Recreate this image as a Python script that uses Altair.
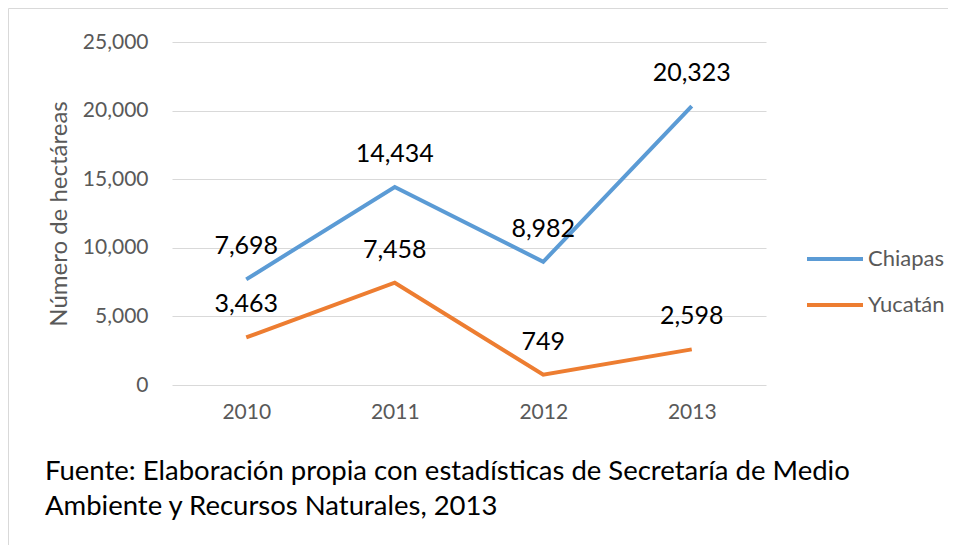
import altair as alt
import pandas as pd

years = ["2010", "2011", "2012", "2013"]
chiapas = [7698, 14434, 8982, 20323]
yucatan = [3463, 7458, 749, 2598]
series_names = ["Chiapas", "Yucatán"]
colors = ["#5B9BD5", "#ED7D31"]
y_ticks = [0, 5000, 10000, 15000, 20000, 25000]
footnote = ["Fuente: Elaboración propia con estadísticas de Secretaría de Medio",
            "Ambiente y Recursos Naturales, 2013"]

rows = []
for name, vals in zip(series_names, [chiapas, yucatan]):
    for y, v in zip(years, vals):
        rows.append({"year": y, "value": v, "series": name})
df = pd.DataFrame(rows)

FONT = "Lato"
W, H = 594, 343
PL, PT = 164, 34
TOTW, TOTH = 940, 537

base = alt.Chart(df)
y_scale = alt.Scale(domain=[0, 25000], nice=False)
x_scale = alt.Scale(padding=0.5)

x_enc = alt.X("year:N", title=None, scale=x_scale,
              axis=alt.Axis(labelAngle=0, labelFontSize=21, labelColor="#595959",
                            labelFont=FONT, labelPadding=16, domain=False, ticks=False,
                            grid=False))
y_enc = alt.Y("value:Q", title="Número de hectáreas", scale=y_scale,
              axis=alt.Axis(values=y_ticks, format=",d", labelFontSize=21,
                            labelColor="#595959", labelFont=FONT, labelPadding=24,
                            domain=False, ticks=False, gridColor="#d9d9d9",
                            titleFontSize=24, titleColor="#595959", titleFont=FONT,
                            titleFontWeight="normal", titleX=-101, titleY=H / 2))

color_enc = alt.Color("series:N", sort=series_names,
                      scale=alt.Scale(domain=series_names, range=colors),
                      legend=alt.Legend(title=None, orient="none", legendX=633, legendY=187,
                                        symbolType="stroke", symbolStrokeWidth=4,
                                        symbolSize=3136, labelFontSize=22,
                                        labelColor="#595959", labelFont=FONT,
                                        labelOffset=3, rowPadding=5))

lines = base.mark_line(strokeWidth=4).encode(x=x_enc, y=y_enc, color=color_enc)
labels = base.mark_text(dy=-33, fontSize=25, font=FONT, color="black").encode(
    x=alt.X("year:N", scale=x_scale), y=alt.Y("value:Q", scale=y_scale),
    text=alt.Text("value:Q", format=","))

border = alt.Chart(pd.DataFrame({"a": [0]})).mark_rect(
    fill=None, stroke="#d9d9d9", strokeWidth=1).encode(
    x=alt.value(-PL + 0.5), x2=alt.value(TOTW - PL + 20),
    y=alt.value(-PT + 0.5), y2=alt.value(TOTH - PT + 20))

note = alt.Chart(pd.DataFrame({"a": [0]})).mark_text(
    align="left", baseline="alphabetic", fontSize=27.5, font=FONT, color="black",
    lineHeight=35).encode(
    x=alt.value(45 - 172), y=alt.value(480 - 42), text=alt.value(footnote))

chart = alt.layer(border, lines, labels, note).properties(
    width=W, height=H,
    autosize=alt.AutoSizeParams(type="none"),
    padding={"left": PL, "top": PT, "right": TOTW - PL - W, "bottom": TOTH - PT - H},
    background="white",
).configure_view(stroke=None)

chart.save("out.html", embed_options={"renderer": "svg", "actions": False})
